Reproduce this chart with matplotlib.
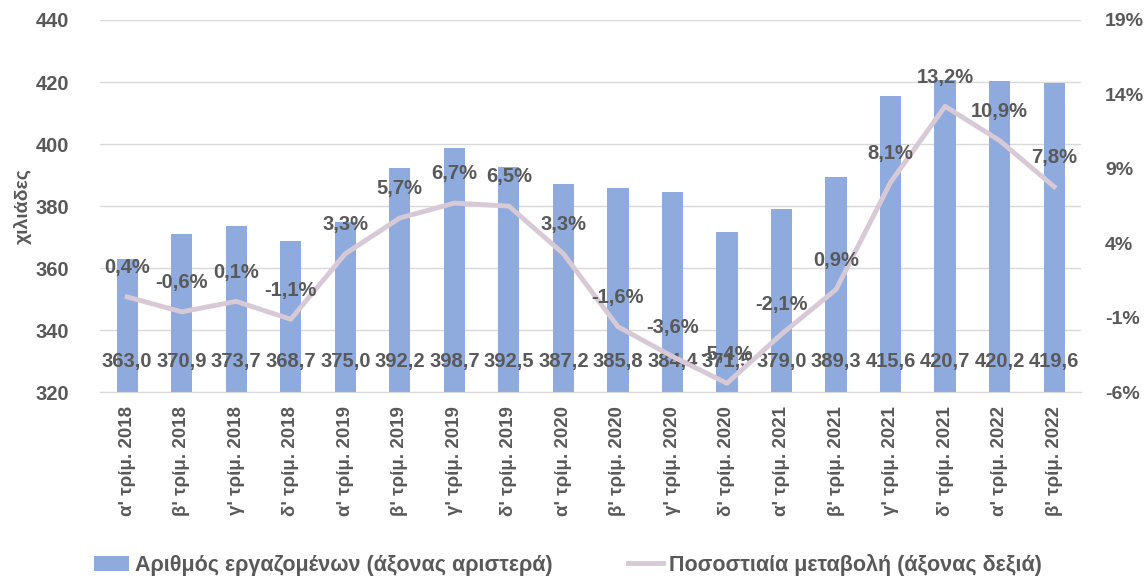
import matplotlib
matplotlib.use("Agg")
import matplotlib.pyplot as plt
from matplotlib.ticker import FuncFormatter

# δεδομένα
quarters = ["α' τρίμ. 2018", "β' τρίμ. 2018", "γ' τρίμ. 2018", "δ' τρίμ. 2018",
            "α' τρίμ. 2019", "β' τρίμ. 2019", "γ' τρίμ. 2019", "δ' τρίμ. 2019",
            "α' τρίμ. 2020", "β' τρίμ. 2020", "γ' τρίμ. 2020", "δ' τρίμ. 2020",
            "α' τρίμ. 2021", "β' τρίμ. 2021", "γ' τρίμ. 2021", "δ' τρίμ. 2021",
            "α' τρίμ. 2022", "β' τρίμ. 2022"]
employed = [363.0, 370.9, 373.7, 368.7, 375.0, 392.2, 398.7, 392.5, 387.2,
            385.8, 384.4, 371.5, 379.0, 389.3, 415.6, 420.7, 420.2, 419.6]
pct_change = [0.4, -0.6, 0.1, -1.1, 3.3, 5.7, 6.7, 6.5, 3.3,
              -1.6, -3.6, -5.4, -2.1, 0.9, 8.1, 13.2, 10.9, 7.8]

left_ticks = [320, 340, 360, 380, 400, 420, 440]
right_ticks = [-6, -1, 4, 9, 14, 19]

grey = "#595959"
bar_col = "#8faadc"
line_col = "#d8c9d6"
plt.rcParams['font.family'] = ['Liberation Sans', 'DejaVu Sans']

fig = plt.figure(figsize=(11.48, 5.88), dpi=100)
ax = fig.add_axes([0.087, 0.333, 0.855, 0.633])
ax2 = ax.twinx()

x = list(range(len(quarters)))
ax.bar(x, employed, width=0.39, color=bar_col, label="Αριθμός εργαζομένων (άξονας αριστερά)", zorder=2)
ax.set_ylim(320, 440)
ax.set_yticks(left_ticks)
ax.set_xlim(-0.5, len(quarters) - 0.5)
ax.yaxis.grid(True, color="#d9d9d9", lw=1, zorder=0)
ax.set_axisbelow(True)
ax.set_xticks(x)
ax.set_xticklabels(quarters, rotation=90, fontsize=13.5, fontweight="bold", color=grey)
ax.tick_params(axis="y", labelsize=14.5, labelcolor=grey, length=0, pad=22)
for t in ax.get_yticklabels():
    t.set_fontweight("bold")
ax.tick_params(axis="x", length=0, pad=10)
ax.set_ylabel("χιλιάδες", fontsize=14, fontweight="bold", color=grey, labelpad=3)
for s in ["top", "right", "left"]:
    ax.spines[s].set_visible(False)
ax.spines["bottom"].set_color("#d9d9d9")

for xi, v in zip(x, employed):
    ax.annotate(("%.1f" % v).replace(".", ","), (xi, 320), xytext=(0, 22),
                textcoords="offset points", ha="center", va="center",
                fontsize=14.5, fontweight="bold", color=grey, zorder=5)

ax2.plot(x, pct_change, color=line_col, lw=3.5, label="Ποσοστιαία μεταβολή (άξονας δεξιά)", zorder=3)
ax2.set_ylim(-6, 19)
ax2.set_yticks(right_ticks)
ax2.yaxis.set_major_formatter(FuncFormatter(lambda v, p: "%d%%" % v))
ax2.tick_params(axis="y", labelsize=14, labelcolor=grey, length=0, pad=17)
for t in ax2.get_yticklabels():
    t.set_fontweight("bold")
for s in ["top", "right", "left", "bottom"]:
    ax2.spines[s].set_visible(False)
for xi, v in zip(x, pct_change):
    ax2.annotate(("%.1f%%" % v).replace(".", ","), (xi, v), xytext=(0, 21),
                 textcoords="offset points", ha="center", va="center",
                 fontsize=14.5, fontweight="bold", color=grey, zorder=6)

h1, l1 = ax.get_legend_handles_labels()
h2, l2 = ax2.get_legend_handles_labels()
leg = fig.legend(h1 + h2, l1 + l2, loc="lower center", bbox_to_anchor=(0.495, -0.012),
                 ncol=2, frameon=False, columnspacing=3.5, handlelength=1.6, handletextpad=0.3,
                 prop={"size": 15.5, "weight": "bold"})
for t in leg.get_texts():
    t.set_color(grey)

fig.savefig("out.png", dpi=100)
